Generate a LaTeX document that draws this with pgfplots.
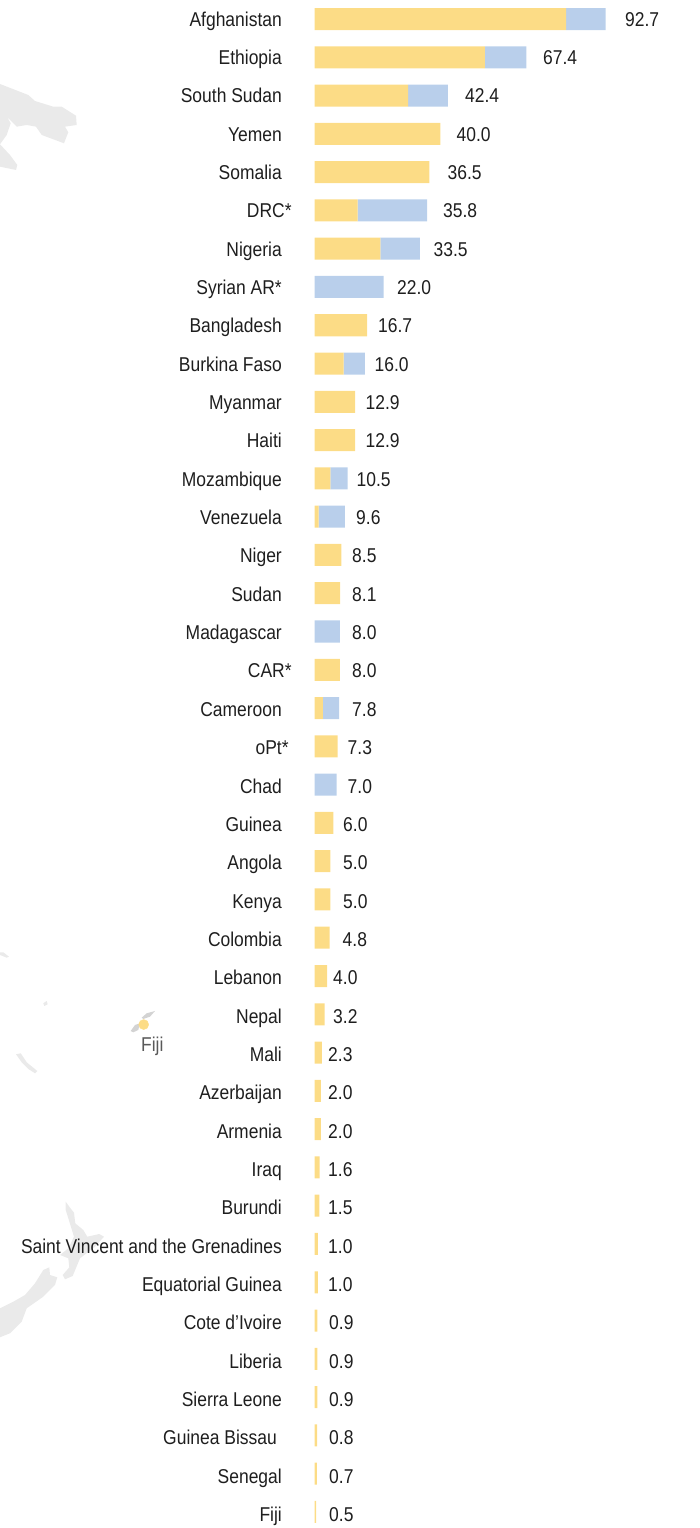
\documentclass[border=0pt]{standalone}
\usepackage{pgfplots}
\pgfplotsset{compat=1.18}
\usepackage{pgfplotstable}
\usepackage{fontspec}
\setmainfont[FakeStretch=0.873]{Liberation Sans}
\definecolor{ylw}{HTML}{FCDC86}
\definecolor{blu}{HTML}{B9CFEB}
\definecolor{txt}{HTML}{1E1E1E}
\definecolor{land}{HTML}{EAEAEA}
\pgfplotstableread{
i aid blue
0 80.1 12.6
1 54.2 13.2
2 29.8 12.6
3 40.0 0
4 36.5 0
5 13.7 22.1
6 20.9 12.6
7 0 22.0
8 16.7 0
9 9.2 6.8
10 12.9 0
11 12.9 0
12 5.0 5.5
13 1.3 8.3
14 8.5 0
15 8.1 0
16 0 8.0
17 8.0 0
18 2.6 5.2
19 7.3 0
20 0 7.0
21 6.0 0
22 5.0 0
23 5.0 0
24 4.8 0
25 4.0 0
26 3.2 0
27 2.3 0
28 2.0 0
29 2.0 0
30 1.6 0
31 1.5 0
32 1.0 0
33 1.0 0
34 0.9 0
35 0.9 0
36 0.9 0
37 0.8 0
38 0.7 0
39 0.5 0
}\bars
\pgfplotstableread{
px i label
625 0 92.7
543 1 67.4
465 2 42.4
456.5 3 40.0
447.5 4 36.5
443 5 35.8
433.5 6 33.5
397 7 22.0
378 8 16.7
374.5 9 16.0
365.5 10 12.9
365.5 11 12.9
356.5 12 10.5
356 13 9.6
352 14 8.5
352 15 8.1
352 16 8.0
352 17 8.0
352 18 7.8
347.5 19 7.3
347.5 20 7.0
343 21 6.0
343 22 5.0
343 23 5.0
342.5 24 4.8
333 25 4.0
333 26 3.2
328 27 2.3
328 28 2.0
328 29 2.0
328 30 1.6
328 31 1.5
328 32 1.0
328 33 1.0
329 34 0.9
329 35 0.9
329 36 0.9
329 37 0.8
329 38 0.7
329 39 0.5
}\labels
\begin{document}
\begin{tikzpicture}
\path[use as bounding box] (0,0) rectangle (699pt,1528pt);
% map backdrop, in picture pixels
\begin{scope}[x=1pt,y=-1pt,yshift=1528pt]
\fill[land] (0,84)--(28.3,95)--(35,101)--(53.3,106.7)--(61.7,106.7)--(76,115.7)--(76.7,125)--(65,126.7)--(68.3,132.3)--(64,143.3)--(41.7,135)--(36,126.7)--(26.7,125)--(16.7,126.7)--(7.3,117.3)--(10.7,123.3)--(6.7,135)--(0,144.3)--(10,155)--(17.3,165)--(16,170)--(0,166.7)--cycle;
\fill[land] (65.7,1201.7)--(69.3,1206.7)--(74,1212.7)--(75.3,1223.3)--(83.3,1230)--(87.3,1236.7)--(99.3,1234)--(104,1236.7)--(95,1246.7)--(80,1258.3)--(72.7,1276)--(65,1279.3)--(62.7,1275)--(69.3,1267.3)--(68.3,1258.3)--(60,1255)--(68.3,1248.3)--(74,1236.7)--(68.3,1218.3)--(65.7,1210)--cycle;
\fill[land] (0,1308.3)--(13.3,1301.7)--(25,1295)--(35,1283.3)--(43.3,1270)--(49.3,1267.3)--(50,1275)--(57.3,1277.3)--(55,1285)--(43.3,1296.7)--(26.7,1308.3)--(21.7,1321.7)--(10,1333.3)--(0,1337.3)--cycle;
\fill[land] (16,1054.3)--(20.7,1053.3)--(26.7,1062.3)--(37.3,1071)--(35,1073.3)--(28.3,1069)--(21.7,1062.3)--cycle;
\fill[land!90!black] (130.7,1031)--(135,1025)--(140,1023.3)--(138.3,1030)--(133.3,1032.3)--cycle;
\fill[land!90!black] (141.7,1017.7)--(146.7,1013.3)--(155,1011)--(150,1016.7)--(143.3,1019)--cycle;
\fill[land] (43.3,1003.3)--(46.7,1001)--(47.7,1004.3)--(44.3,1006)--cycle;
\fill[land] (0,952.3)--(3.3,952.3)--(9,956.7)--(6.7,957.7)--(0,955)--cycle;
\node[anchor=base west,inner sep=0pt,text=black!65,font=\fontsize{20pt}{22pt}\selectfont] at (141,1051.7) {Fiji};
\end{scope}
\begin{axis}[
  at={(0,0)},anchor=south west,scale only axis,width=699pt,height=1528pt,
  xbar stacked,bar width=0.575,
  xmin=-100.2,xmax=122.4,ymin=-0.496,ymax=39.42,y dir=reverse,
  axis line style={draw=none},major tick length=0pt,xtick=\empty,ytick=\empty,
]
\addplot[fill=ylw,draw=none] table[x=aid,y=i]{\bars};
\addplot[fill=blu,draw=none] table[x=blue,y=i]{\bars};
\end{axis}
\begin{axis}[
  at={(0,0)},anchor=south west,scale only axis,width=699pt,height=1528pt,
  xmin=0,xmax=699,ymin=-0.4954,ymax=39.348,y dir=reverse,
  axis line style={draw=none},major tick length=0pt,xtick=\empty,clip=false,
  ytick={0,...,39},
  yticklabels={Afghanistan,Ethiopia,South Sudan,Yemen,Somalia,DRC\rlap{*}\kern-3pt\null,Nigeria,Syrian AR*,Bangladesh,Burkina Faso,Myanmar,Haiti,Mozambique,Venezuela,Niger,Sudan,Madagascar,CAR\rlap{*}\kern-3pt\null,Cameroon,oPt\rlap{*},Chad,Guinea,Angola,Kenya,Colombia,Lebanon,Nepal,Mali,Azerbaijan,Armenia,Iraq,Burundi,Saint Vincent and the Grenadines,Equatorial Guinea,Cote d'Ivoire,Liberia,Sierra Leone,Guinea Bissau\kern5pt\null,Senegal,Fiji},
  yticklabel style={anchor=east,inner sep=0pt,text=txt,xshift=282pt,text height=18pt,text depth=4pt,font=\fontsize{20pt}{22pt}\selectfont},
]
\addplot[only marks,mark=none,point meta=explicit symbolic,
  nodes near coords,
  nodes near coords style={anchor=west,inner sep=0pt,text=txt,text height=18pt,text depth=4pt,font=\fontsize{20pt}{22pt}\selectfont}]
  table[x=px,y=i,meta=label]{\labels};
\addplot[only marks,mark=*,mark size=5pt,color=ylw] coordinates {(143.7,26.22)};
\end{axis}
\end{tikzpicture}
\end{document}
